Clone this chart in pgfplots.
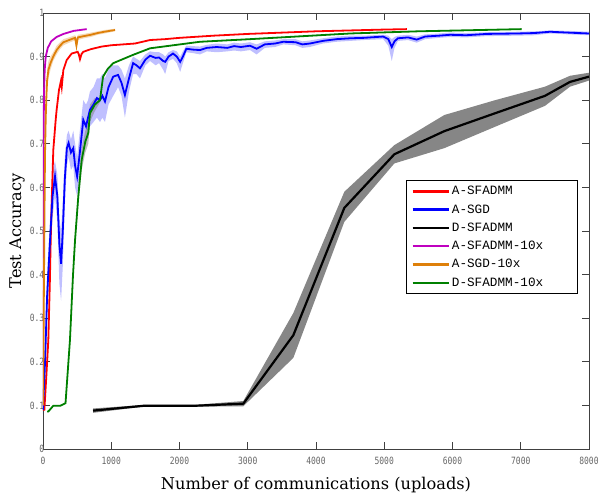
\documentclass[border=0pt]{standalone}
\usepackage{pgfplots}
\pgfplotsset{compat=1.18}
\usepgfplotslibrary{fillbetween}
\usepackage{fontspec}
\newfontfamily\labfont{DejaVu Serif}
\newfontfamily\legfont{Liberation Mono}
\newfontfamily\tickfont[FakeStretch=0.8]{DejaVu Sans Mono}
\definecolor{mred}{rgb}{1,0,0}
\definecolor{mblue}{rgb}{0,0,1}
\definecolor{mmag}{rgb}{0.75,0,0.75}
\definecolor{morange}{rgb}{0.87,0.5,0.04}
\definecolor{mgreen}{rgb}{0,0.5,0}
\definecolor{axgray}{gray}{0.25}

\pgfplotstableread{
x mean lo hi
0 0.09 0.08 0.10
30 0.20 0.17 0.23
60 0.35 0.30 0.40
100 0.47 0.42 0.52
140 0.58 0.53 0.64
176 0.625 0.58 0.66
210 0.58 0.52 0.63
240 0.47 0.38 0.53
265 0.425 0.34 0.50
290 0.50 0.42 0.57
320 0.62 0.56 0.67
350 0.69 0.65 0.72
375 0.702 0.67 0.73
410 0.68 0.64 0.71
444 0.69 0.65 0.73
470 0.65 0.60 0.70
500 0.625 0.58 0.67
540 0.68 0.63 0.73
590 0.755 0.70 0.80
630 0.74 0.70 0.79
660 0.76 0.72 0.80
688 0.778 0.74 0.82
740 0.79 0.75 0.83
790 0.805 0.76 0.85
835 0.80 0.75 0.85
870 0.81 0.76 0.86
908 0.797 0.75 0.85
960 0.83 0.79 0.87
1029 0.854 0.81 0.88
1100 0.858 0.83 0.88
1150 0.84 0.81 0.87
1200 0.812 0.76 0.85
1260 0.85 0.82 0.88
1320 0.885 0.86 0.90
1370 0.88 0.86 0.895
1421 0.873 0.85 0.89
1500 0.893 0.88 0.905
1568 0.902 0.89 0.912
1650 0.897 0.88 0.91
1700 0.898 0.885 0.91
1760 0.89 0.87 0.905
1790 0.888 0.86 0.90
1840 0.90 0.89 0.91
1905 0.907 0.895 0.915
1960 0.90 0.885 0.912
2010 0.888 0.865 0.90
2050 0.90 0.885 0.912
2100 0.918 0.91 0.925
2200 0.916 0.908 0.924
2300 0.915 0.905 0.923
2400 0.92 0.912 0.927
2545 0.922 0.91 0.93
2700 0.92 0.912 0.928
2800 0.924 0.914 0.932
2900 0.922 0.912 0.93
3033 0.925 0.915 0.933
3130 0.918 0.905 0.928
3250 0.928 0.92 0.935
3400 0.93 0.922 0.937
3520 0.934 0.928 0.94
3700 0.933 0.926 0.94
3800 0.928 0.92 0.935
3910 0.93 0.922 0.937
4100 0.936 0.93 0.942
4300 0.94 0.934 0.946
4500 0.942 0.936 0.948
4700 0.943 0.938 0.948
4985 0.946 0.94 0.95
5060 0.94 0.925 0.948
5110 0.922 0.89 0.94
5150 0.935 0.92 0.945
5200 0.942 0.936 0.948
5350 0.944 0.938 0.95
5475 0.939 0.932 0.946
5600 0.946 0.94 0.951
5800 0.948 0.943 0.953
5965 0.95 0.945 0.955
6200 0.949 0.944 0.954
6500 0.952 0.947 0.956
6940 0.953 0.948 0.957
7200 0.954 0.949 0.958
7430 0.957 0.953 0.96
7700 0.955 0.951 0.959
8000 0.953 0.949 0.957
}\sgd

\pgfplotstableread{
x mean lo hi
733 0.088 0.083 0.093
1467 0.099 0.097 0.101
2200 0.099 0.097 0.101
2935 0.104 0.098 0.110
3668 0.261 0.209 0.312
4415 0.553 0.521 0.590
5148 0.676 0.655 0.697
5880 0.729 0.690 0.766
6623 0.770 0.739 0.800
7355 0.810 0.787 0.831
7722 0.842 0.831 0.856
8000 0.854 0.845 0.863
}\dsf

\pgfplotstableread{
x mean lo hi
0 0.10 0.10 0.10
10 0.30 0.28 0.32
20 0.50 0.47 0.53
25 0.60 0.57 0.63
30 0.68 0.65 0.71
40 0.76 0.73 0.79
50 0.81 0.78 0.84
60 0.845 0.82 0.87
80 0.87 0.85 0.89
110 0.885 0.87 0.90
150 0.90 0.89 0.91
200 0.915 0.905 0.925
250 0.925 0.917 0.933
300 0.933 0.926 0.940
400 0.939 0.933 0.945
470 0.943 0.937 0.949
490 0.925 0.915 0.940
510 0.944 0.938 0.950
600 0.947 0.942 0.952
700 0.950 0.945 0.955
800 0.954 0.950 0.958
900 0.957 0.953 0.961
1055 0.961 0.958 0.964
}\sgdten

\pgfplotstableread{
x mean lo hi
60 0.086 0.085 0.087
78 0.086 0.085 0.087
150 0.099 0.098 0.100
250 0.099 0.098 0.100
330 0.105 0.104 0.106
395 0.25 0.249 0.251
440 0.40 0.399 0.401
470 0.48 0.47 0.49
517 0.579 0.56 0.60
567 0.663 0.64 0.69
620 0.705 0.68 0.73
664 0.725 0.70 0.75
688 0.77 0.75 0.79
760 0.79 0.775 0.805
835 0.80 0.795 0.805
880 0.854 0.85 0.858
950 0.872 0.87 0.875
1030 0.885 0.884 0.886
1320 0.904 0.903 0.905
1568 0.919 0.918 0.920
2300 0.934 0.933 0.935
3033 0.940 0.939 0.941
4500 0.953 0.952 0.954
5500 0.958 0.957 0.959
7014 0.963 0.962 0.964
}\dsften

\begin{document}
\begin{tikzpicture}
\begin{axis}[
  at={(0,0)}, anchor=south west,
  width=546pt, height=436pt, scale only axis,
  xmin=0, xmax=8000, ymin=0, ymax=1,
  xtick={0,1000,...,8000},
  xticklabels={0,1000,2000,3000,4000,5000,6000,7000,8000},
  ytick={0,0.1,0.2,0.3,0.4,0.5,0.6,0.7,0.8,0.9,1},
  yticklabels={0,0.1,0.2,0.3,0.4,0.5,0.6,0.7,0.8,0.9,1},
  tick align=inside, major tick length=7pt,
  tick style={axgray, line width=0.8pt},
  axis line style={axgray, line width=0.8pt},
  ticklabel style={font=\fontsize{10}{10}\selectfont\tickfont, text=gray!80!black},
  yticklabel style={anchor=east, inner sep=0pt, xshift=1.5pt},
  xticklabel style={anchor=north, inner sep=0pt, yshift=-8pt},
  xlabel={\labfont\fontsize{16.2}{17}\selectfont Number of communications (uploads)},
  ylabel={\labfont\fontsize{16.2}{17}\selectfont Test Accuracy},
  xlabel style={at={(axis description cs:0.5,0)}, anchor=center, yshift=-36pt},
  ylabel style={at={(axis description cs:0,0.5)}, anchor=center, xshift=0pt, yshift=26pt},
  legend style={at={(0.665,0.617)}, anchor=north west, draw=black, line width=0.6pt,
    font=\fontsize{12.7}{12.7}\selectfont\legfont, inner xsep=5pt, inner ysep=4pt,
    row sep=4.3pt, legend cell align=left},
  legend image code/.code={\draw[#1, line width=2.5pt] (0pt,0pt) -- (36pt,0pt);},
  clip=true,
]
% bands
\addplot[name path=blo, draw=none, forget plot] table[x=x,y=lo]{\sgd};
\addplot[name path=bhi, draw=none, forget plot] table[x=x,y=hi]{\sgd};
\addplot[fill=mblue, fill opacity=0.25, draw=none, forget plot] fill between[of=blo and bhi];
\addplot[name path=klo, draw=none, forget plot] table[x=x,y=lo]{\dsf};
\addplot[name path=khi, draw=none, forget plot] table[x=x,y=hi]{\dsf};
\addplot[fill=gray!95, draw=none, forget plot] fill between[of=klo and khi];
\addplot[name path=olo, draw=none, forget plot] table[x=x,y=lo]{\sgdten};
\addplot[name path=ohi, draw=none, forget plot] table[x=x,y=hi]{\sgdten};
\addplot[fill=morange, fill opacity=0.3, draw=none, forget plot] fill between[of=olo and ohi];
\addplot[name path=glo, draw=none, forget plot] table[x=x,y=lo]{\dsften};
\addplot[name path=ghi, draw=none, forget plot] table[x=x,y=hi]{\dsften};
\addplot[fill=gray, fill opacity=0.5, draw=none, forget plot] fill between[of=glo and ghi];
% A-SFADMM
\addplot[mred, line width=1.8pt] coordinates {
(0,0.09) (20,0.09) (50,0.17) (78,0.25) (100,0.38) (113,0.48) (130,0.58) (151,0.686)
(186,0.755) (200,0.778) (234,0.823) (264,0.845) (275,0.831) (298,0.869) (347,0.892)
(420,0.907) (508,0.911) (525,0.905) (542,0.894) (565,0.906) (591,0.911) (700,0.917)
(860,0.923) (1000,0.926) (1348,0.930) (1568,0.938) (1788,0.940) (2000,0.943) (2500,0.948)
(3000,0.952) (3500,0.955) (4000,0.958) (4500,0.960) (5000,0.962) (5333,0.963)};
\addlegendentry{A-SFADMM}
% A-SGD
\addplot[mblue, line width=1.8pt] table[x=x,y=mean]{\sgd};
\addlegendentry{A-SGD}
% D-SFADMM
\addplot[black, line width=2.2pt] table[x=x,y=mean]{\dsf};
\addlegendentry{D-SFADMM}
% A-SFADMM-10x
\addplot[mmag, line width=1.8pt] coordinates {
(0,0.10) (3,0.40) (8,0.70) (15,0.82) (25,0.87) (40,0.90) (70,0.92) (120,0.935)
(200,0.945) (300,0.952) (450,0.959) (640,0.963)};
\addlegendentry{A-SFADMM-10x\hspace*{27pt}}
% A-SGD-10x
\addplot[morange, line width=1.8pt] table[x=x,y=mean]{\sgdten};
\addlegendentry{A-SGD-10x}
% D-SFADMM-10x
\addplot[mgreen, line width=1.8pt] table[x=x,y=mean]{\dsften};
\addlegendentry{D-SFADMM-10x}
\end{axis}
\path (-43pt,-45pt) (557pt,449pt);
\end{tikzpicture}
\end{document}
